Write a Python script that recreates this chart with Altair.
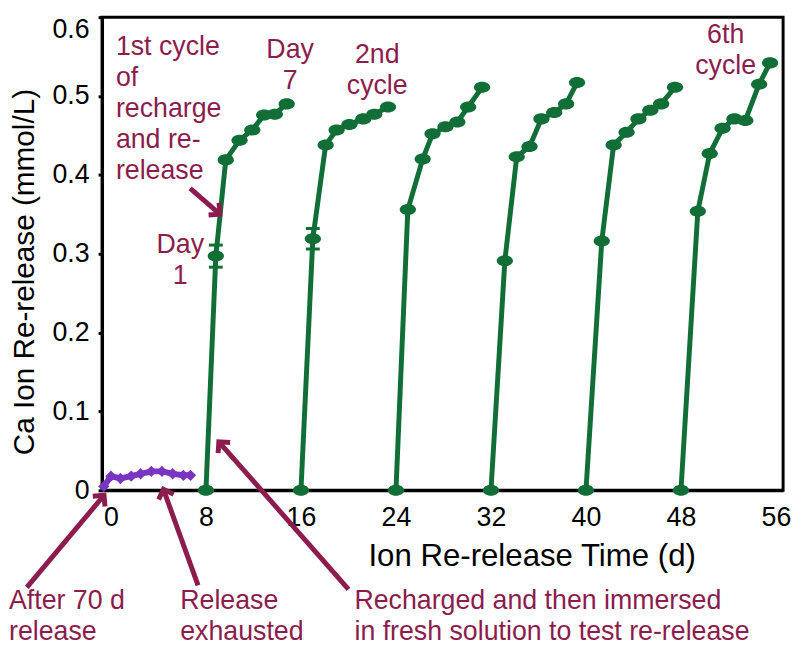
import math
import altair as alt
import pandas as pd

# ---------------- data ----------------
cycle_names = ["1st", "2nd", "3rd", "4th", "5th", "6th"]
cycle_start = [8, 16, 24, 32, 40, 48]

c1_x = [8.83, 9.67, 10.83, 11.9, 12.9, 13.8, 14.8]
c1_y = [0.297, 0.419, 0.444, 0.457, 0.476, 0.477, 0.490]
c2_x = [17.0, 18.08, 19.0, 20.08, 21.25, 22.17, 23.33]
c2_y = [0.319, 0.438, 0.457, 0.464, 0.471, 0.477, 0.486]
c3_x = [25.0, 26.25, 27.08, 28.17, 29.17, 30.08, 31.25]
c3_y = [0.356, 0.420, 0.452, 0.461, 0.467, 0.486, 0.511]
c4_x = [33.17, 34.17, 35.25, 36.25, 37.33, 38.33, 39.25]
c4_y = [0.291, 0.423, 0.436, 0.471, 0.479, 0.490, 0.517]
c5_x = [41.33, 42.33, 43.42, 44.42, 45.42, 46.33, 47.5]
c5_y = [0.316, 0.438, 0.454, 0.471, 0.482, 0.490, 0.511]
c6_x = [49.42, 50.42, 51.5, 52.5, 53.42, 54.58, 55.5]
c6_y = [0.354, 0.427, 0.459, 0.471, 0.469, 0.515, 0.542]

purple_x = [-0.6, 0.0, 0.8, 1.7, 2.5, 3.4, 4.3, 5.2, 6.1, 6.7]
purple_y = [0.005, 0.018, 0.015, 0.018, 0.021, 0.024, 0.024, 0.021, 0.019, 0.019]

# day-1 error bars (cycles 1 and 2)
err_x = [8.83, 17.0]
err_y = [0.297, 0.319]
err_e = [0.014, 0.013]

x_ticks = [0, 8, 16, 24, 32, 40, 48, 56]
y_ticks = [0, 0.1, 0.2, 0.3, 0.4, 0.5, 0.6]

# ---------------- styling ----------------
F = "Liberation Sans"
GREEN = "#106e36"
PURPLE = "#7a34c2"
MAROON = "#8c1c4e"
ELLIPSE = "M -1 0 A 1 0.68 0 1 0 1 0 A 1 0.68 0 1 0 -1 0 Z"
CHEVRON = "M -1 1 L 0 0 L 1 1"

PW, PH = 688, 478          # plot area
OX, OY = 103, 14           # plot origin on the page

cx_list = [c1_x, c2_x, c3_x, c4_x, c5_x, c6_x]
cy_list = [c1_y, c2_y, c3_y, c4_y, c5_y, c6_y]
rows = []
for name, s, xs, ys in zip(cycle_names, cycle_start, cx_list, cy_list):
    rows.append({"cycle": name, "order": 0, "x": s, "y": 0.0})
    for i, (xv, yv) in enumerate(zip(xs, ys)):
        rows.append({"cycle": name, "order": i + 1, "x": xv, "y": yv})
gdf = pd.DataFrame(rows)
pdf = pd.DataFrame({"x": purple_x, "y": purple_y, "order": list(range(len(purple_x)))})
edf = pd.DataFrame({"x": err_x, "lo": [a - b for a, b in zip(err_y, err_e)],
                    "hi": [a + b for a, b in zip(err_y, err_e)]})

X = alt.X("x:Q",
          scale=alt.Scale(domain=[-0.75, 56.6], nice=False, zero=False),
          axis=alt.Axis(values=x_ticks, format="d", ticks=False, tickSize=0,
                        grid=False, labelFont=F, labelFontSize=27, labelColor="black",
                        labelPadding=36, labelBaseline="alphabetic", labelFlush=False,
                        domainColor="black", domainWidth=3,
                        title="Ion Re-release Time (d)", titleFont=F, titleFontSize=31.5,
                        titleFontWeight="normal", titleColor="black",
                        titleX=537 - OX, titleY=568 - (OY + PH),
                        titleBaseline="alphabetic", titleAlign="center"))
Y = alt.Y("y:Q",
          scale=alt.Scale(domain=[0, 0.6], nice=False, zero=False),
          axis=alt.Axis(values=y_ticks, format=".1~f", tickSize=4, tickWidth=3,
                        tickColor="black", grid=False, labelFont=F, labelFontSize=27,
                        labelColor="black", labelPadding=9, labelFlush=False,
                        labelBaseline={"condition": {"test": "datum.value > 0.55",
                                                     "value": "top"},
                                       "value": "middle"},
                        domainColor="black", domainWidth=3,
                        title="Ca Ion Re-release (mmol/L)", titleFont=F, titleFontSize=30,
                        titleFontWeight="normal", titleColor="black",
                        titleAngle=270, titleX=34 - OX, titleY=271 - OY,
                        titleBaseline="alphabetic", titleAlign="center"))

green_line = alt.Chart(gdf).mark_line(color=GREEN, strokeWidth=5).encode(
    x=X, y=Y, detail="cycle:N", order="order:Q")
green_pts = alt.Chart(gdf).mark_point(shape=ELLIPSE, filled=True, size=270,
                                      color=GREEN, opacity=1).encode(x=X, y=Y)
err_rule = alt.Chart(edf).mark_rule(color=GREEN, strokeWidth=3).encode(
    x=X, y=alt.Y("lo:Q"), y2="hi:Q")
err_lo = alt.Chart(edf).mark_tick(orient="horizontal", size=14, thickness=3,
                                  color=GREEN, opacity=1).encode(x=X, y=alt.Y("lo:Q"))
err_hi = alt.Chart(edf).mark_tick(orient="horizontal", size=14, thickness=3,
                                  color=GREEN, opacity=1).encode(x=X, y=alt.Y("hi:Q"))
purple_line = alt.Chart(pdf).mark_line(color=PURPLE, strokeWidth=6).encode(
    x=X, y=Y, order="order:Q")
purple_pts = alt.Chart(pdf).mark_point(shape="diamond", filled=True, size=130,
                                       color=PURPLE, opacity=1).encode(x=X, y=Y)

one = alt.Data(values=[{}])


def text(lines, px, py, align="left"):
    return alt.Chart(one).mark_text(
        align=align, baseline="alphabetic", font=F, fontSize=27, color=MAROON,
        lineHeight=31.5).encode(
        x=alt.value(px - OX), y=alt.value(py - OY), text=alt.value(lines))


def arrow(x1, y1, x2, y2):
    ang = math.degrees(math.atan2(x2 - x1, -(y2 - y1))) % 360
    shaft = alt.Chart(one).mark_rule(color=MAROON, strokeWidth=5).encode(
        x=alt.value(x1 - OX), y=alt.value(y1 - OY),
        x2=alt.value(x2 - OX), y2=alt.value(y2 - OY))
    head = alt.Chart(one).mark_point(shape=CHEVRON, size=260, filled=False,
                                     stroke=MAROON, strokeWidth=5, opacity=1,
                                     angle=round(ang, 2)).encode(
        x=alt.value(x2 - OX), y=alt.value(y2 - OY))
    return [shaft, head]


notes = [
    text(["1st cycle", "of", "recharge", "and re-", "release"], 117, 52),
    text(["Day", "7"], 293, 55, "center"),
    text(["2nd", "cycle"], 381, 60, "center"),
    text(["6th", "cycle"], 733, 40, "center"),
    text(["Day", "1"], 182, 252, "center"),
    text(["After 70 d", "release"], 9, 612),
    text(["Release", "exhausted"], 182, 612),
    text(["Recharged and then immersed", "in fresh solution to test re-release"], 358, 612),
]
arrows = (arrow(192, 187, 222, 213) + arrow(27, 590, 105, 497)
          + arrow(200, 588, 165, 491) + arrow(352, 592, 221, 443))

chart = alt.layer(
    green_line, err_rule, err_lo, err_hi, green_pts, purple_line, purple_pts,
    *notes, *arrows
).properties(
    width=PW, height=PH,
    autosize=alt.AutoSizeParams(type="none"),
    padding={"left": OX - 8, "top": OY - 8, "right": 792 - (OX - 8) - PW,
             "bottom": 637 - (OY - 8) - PH},
    background="white",
).configure_view(stroke="black", strokeWidth=3)

chart.save("out.html", embed_options={"renderer": "svg", "actions": False})
